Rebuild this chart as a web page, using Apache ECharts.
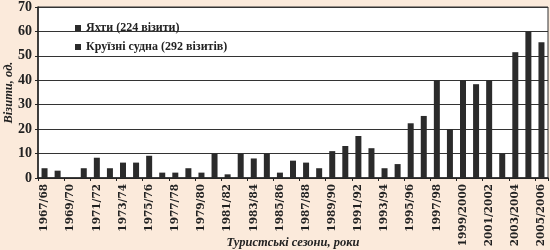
<!DOCTYPE html>
<html lang="uk">
<head>
<meta charset="utf-8" />
<title>Візити</title>
<script src="https://cdn.jsdelivr.net/npm/echarts@6/dist/echarts.min.js"></script>
<style>
  html, body { margin: 0; padding: 0; background: #fbeadb; }
  #main { width: 550px; height: 250px; }
</style>
</head>
<body>
<div id="main"></div>
<script>
  // сезони та кількість візитів
  const seasons = ['1967/68','1968/69','1969/70','1970/71','1971/72','1972/73','1973/74','1974/75',
    '1975/76','1976/77','1977/78','1978/79','1979/80','1980/81','1981/82','1982/83','1983/84',
    '1984/85','1985/86','1986/87','1987/88','1988/89','1989/90','1990/91','1991/92','1992/93',
    '1993/94','1994/95','1995/96','1996/97','1997/98','1998/99','1999/2000','2000/01',
    '2001/2002','2002/03','2003/2004','2004/05','2005/2006'];
  const visits = [4, 3, 0, 4, 8.3, 4, 6.3, 6.3, 9.1, 2.2, 2.2, 4, 2.2, 10, 1.5, 10, 8, 10, 2.2,
    7.1, 6.3, 4, 11, 13.1, 17.2, 12.2, 4, 5.7, 22.4, 25.4, 40, 20, 40, 38.4, 40, 10, 51.5, 60, 55.6];
  const legendNames = ['Яхти (224 візити)', 'Круїзні судна (292 візитів)'];
  const yTicks = [0, 10, 20, 30, 40, 50, 60, 70];

  const serif = 'Liberation Serif';
  const dark = '#2b2b2b';

  let chart = echarts.init(document.getElementById('main'));
  let option = {
    backgroundColor: '#fbeadb',
    animation: false,
    grid: {
      left: 38, right: 2, top: 7, bottom: 72,
      outerBoundsMode: 'none',
      show: true, backgroundColor: '#ffffff', borderColor: '#333', borderWidth: 1
    },
    legend: {
      orient: 'vertical',
      left: 70, top: 17,
      icon: 'rect',
      itemWidth: 6, itemHeight: 6, itemGap: 7,
      data: legendNames,
      textStyle: { fontFamily: serif, fontWeight: 'bold', fontSize: 12, color: '#222' }
    },
    xAxis: {
      type: 'category',
      data: seasons,
      name: 'Туристські сезони, роки',
      nameLocation: 'middle',
      nameGap: 58,
      nameMoveOverlap: false,
      nameTextStyle: { fontFamily: serif, fontStyle: 'italic', fontWeight: 'bold', fontSize: 12.5, color: '#222' },
      axisLine: { lineStyle: { color: '#222', width: 1.5 } },
      axisTick: { show: true, length: 3, lineStyle: { color: '#222' } },
      axisLabel: {
        interval: 1, rotate: 90, margin: 6,
        fontFamily: 'DejaVu Serif', fontWeight: 'bold', fontSize: 10.5, color: '#222'
      }
    },
    yAxis: {
      type: 'value',
      min: yTicks[0], max: yTicks[yTicks.length - 1], interval: 10,
      name: 'Візити, од.',
      nameLocation: 'middle',
      nameGap: 23,
      nameMoveOverlap: false,
      nameTextStyle: { fontFamily: serif, fontStyle: 'italic', fontWeight: 'bold', fontSize: 12.5, color: '#222' },
      axisLine: { show: true, lineStyle: { color: '#222', width: 1.5 } },
      axisTick: { show: true, length: 3, lineStyle: { color: '#222' } },
      axisLabel: { fontFamily: serif, fontWeight: 'bold', fontSize: 14, color: '#222', margin: 6 },
      splitLine: { lineStyle: { color: '#333', width: 1.2 } }
    },
    series: [
      {
        name: legendNames[0],
        type: 'bar',
        data: visits,
        barWidth: 6,
        barGap: '-100%',
        itemStyle: { color: dark }
      },
      {
        // лише для легенди
        name: legendNames[1],
        type: 'bar',
        data: [],
        barWidth: 6,
        barGap: '-100%',
        itemStyle: { color: dark }
      }
    ]
  };
  chart.setOption(option);
</script>
</body>
</html>
